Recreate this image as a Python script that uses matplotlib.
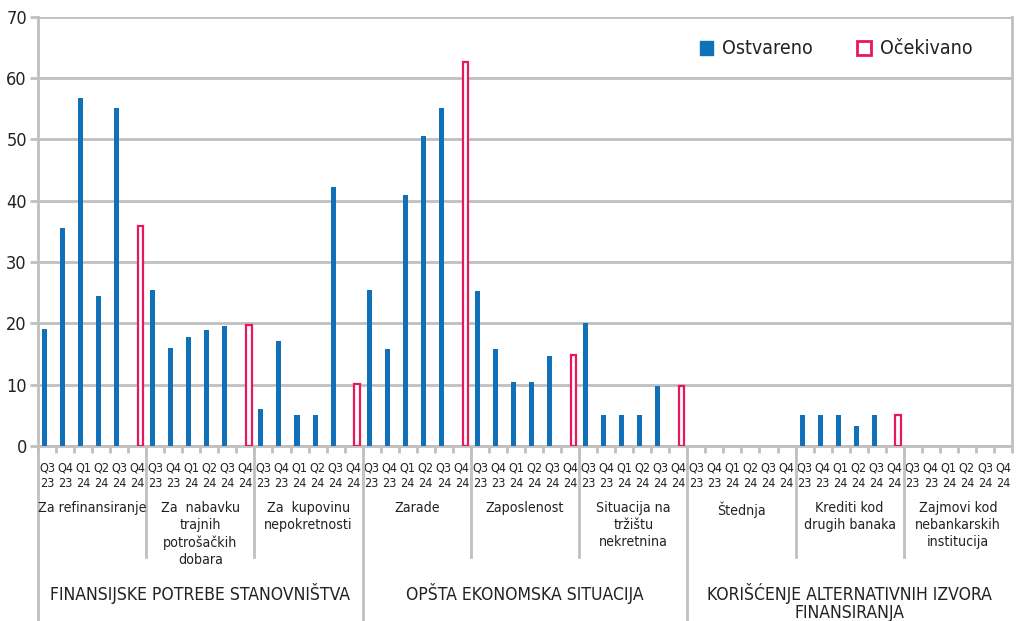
import matplotlib
matplotlib.use("Agg")
import matplotlib.pyplot as plt
from matplotlib.patches import Patch
import numpy as np

plt.rcParams['font.family'] = ['DejaVu Sans']
plt.rcParams['font.stretch'] = 'condensed'

quarters = ["Q3\n23", "Q4\n23", "Q1\n24", "Q2\n24", "Q3\n24", "Q4\n24"]
subgroups = ["Za refinansiranje", "Za  nabavku\ntrajnih\npotrošačkih\ndobara",
             "Za  kupovinu\nnepokretnosti", "Zarade", "Zaposlenost",
             "Situacija na\ntržištu\nnekretnina", "Štednja",
             "Krediti kod\ndrugih banaka", "Zajmovi kod\nnebankarskih\ninstitucija"]
groups = ["FINANSIJSKE POTREBE STANOVNIŠTVA", "OPŠTA EKONOMSKA SITUACIJA",
          "KORIŠĆENJE ALTERNATIVNIH IZVORA\nFINANSIRANJA"]

# realized (Q3 23 .. Q3 24) and expected (Q4 24) per subgroup
ostvareno = [
    [19.0, 35.6, 56.8, 24.4, 55.1],
    [25.4, 15.9, 17.7, 18.9, 19.6],
    [6.0, 17.2, 5.0, 5.0, 42.2],
    [25.4, 15.8, 40.9, 50.5, 55.1],
    [25.3, 15.8, 10.4, 10.5, 14.7],
    [20.0, 5.0, 5.0, 5.0, 9.8],
    [0, 0, 0, 0, 0],
    [5.0, 5.0, 5.0, 3.3, 5.0],
    [0, 0, 0, 0, 0],
]
ocekivano = [35.8, 19.7, 10.1, 62.6, 14.9, 9.8, 0, 5.0, 0]

blue = "#1071b9"
pink = "#e8185a"
grey = "#c0c0c0"
txt = "#222222"

fig = plt.figure(figsize=(10.16, 6.21), dpi=100)
ax = fig.add_axes([38 / 1016, 1 - 446 / 621, (1012 - 38) / 1016, (446 - 16.7) / 621])

nq = len(quarters)
for g in range(len(subgroups)):
    xs = np.arange(5) + g * nq
    ax.bar(xs - 0.14, ostvareno[g], width=0.28, color=blue, zorder=3)
    if ocekivano[g] > 0:
        ax.bar(g * nq + 5 + 0.19, ocekivano[g], width=0.3, facecolor="white",
               edgecolor=pink, linewidth=1.6, zorder=3)

ax.set_xlim(-0.5, len(subgroups) * nq - 0.5)
ax.set_ylim(0, 70)
ax.set_yticks(range(0, 71, 10))
ax.yaxis.grid(True, color=grey, linewidth=2)
ax.set_axisbelow(True)
for s in ["left", "right", "top", "bottom"]:
    ax.spines[s].set_color(grey)
    ax.spines[s].set_linewidth(2)
ax.spines["top"].set_visible(False)

ax.tick_params(axis="y", length=6, width=2, color=grey, labelsize=13, labelcolor=txt, pad=2)
ax.set_xticks(np.arange(len(subgroups) * nq))
ax.set_xticklabels(quarters * len(subgroups), fontsize=9, color=txt, linespacing=1.3)
ax.tick_params(axis="x", which="major", length=0, pad=11)
ax.set_xticks(np.arange(len(subgroups) * nq + 1) - 0.5, minor=True)
ax.tick_params(axis="x", which="minor", length=5, width=2, color=grey)

trans = ax.get_xaxis_transform()
h = 446 - 16.7
for b in range(0, len(subgroups) * nq + 1, nq):
    x = b - 0.5
    if b % (3 * nq) == 0 and b < len(subgroups) * nq:
        ax.plot([x, x], [0, -(621 - 446) / h], color=grey, lw=2, transform=trans, clip_on=False)
    elif b < len(subgroups) * nq:
        ax.plot([x, x], [0, -(557 - 446) / h], color=grey, lw=2, transform=trans, clip_on=False)

for g, name in enumerate(subgroups):
    ax.text(g * nq + 2.5, -(501 - 446) / h, name, transform=trans, ha="center", va="top",
            fontsize=10.2, color=txt, linespacing=1.27)

for k, name in enumerate(groups):
    ax.text(k * 3 * nq + 8.5, -(583 - 446) / h, name, transform=trans, ha="center", va="top",
            fontsize=12.6, color=txt, linespacing=0.98)

handles = [Patch(facecolor=blue, edgecolor=blue, label="Ostvareno"),
           Patch(facecolor="white", edgecolor=pink, linewidth=2, label="Očekivano")]
leg = fig.legend(handles=handles, loc="center left", bbox_to_anchor=(682 / 1016, 1 - 49 / 621),
                 ncol=2, frameon=False, fontsize=14, handlelength=0.7, handleheight=0.7,
                 columnspacing=2.3, handletextpad=0.45)
for t in leg.get_texts():
    t.set_color(txt)

fig.savefig("out.png", dpi=100)
